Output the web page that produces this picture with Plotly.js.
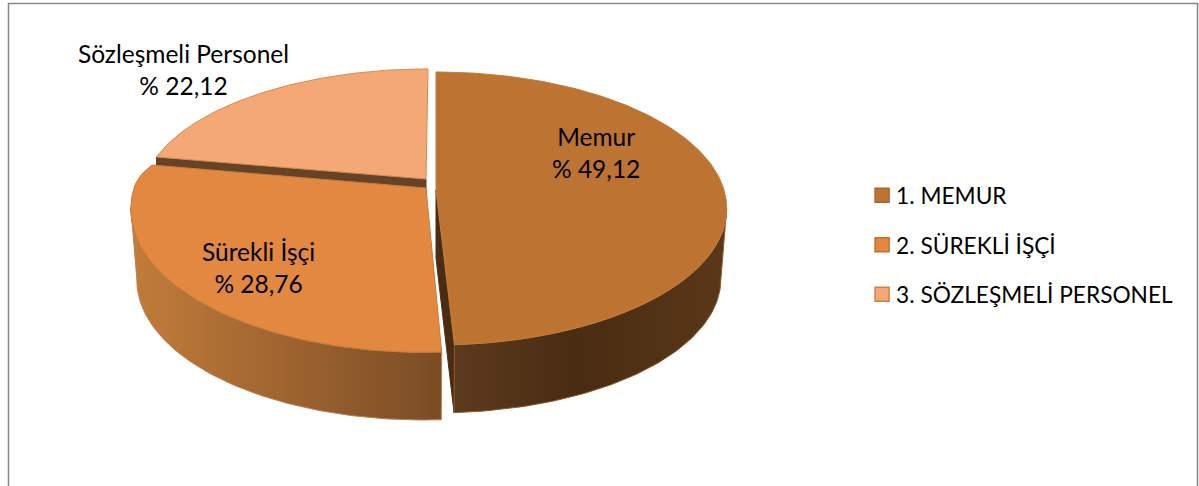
<!DOCTYPE html>
<html>
<head>
<meta charset="utf-8">
<script src="https://cdn.plot.ly/plotly-3.0.1.min.js"></script>
<style>html,body{margin:0;padding:0;background:#fff}#c{width:1199px;height:486px}</style>
</head>
<body>
<div id="c"></div>
<script>
// Data
const sliceNames = ["Memur", "Sürekli İşçi", "Sözleşmeli Personel"];
const legendNames = ["1. MEMUR", "2. SÜREKLİ İŞÇİ", "3. SÖZLEŞMELİ PERSONEL"];
const shares = [49.12, 28.76, 22.12];

// Perspective pie geometry (pixel-valued axes)
const K = 0.1355, WALL_DY = 71, WALL_S = 0.98;
const DEG = Math.PI / 180;
const geom = [
  {cx: 436, cy: 190, rx: 288, a: 134, lean: 0, bx: 0, by: 0},
  {cx: 426, cy: 188, rx: 292, a: 142, lean: -3, bx: 187, by: 62},
  {cx: 426, cy: 179, rx: 281, a: 125, lean: -2, bx: 0, by: 0}
];
const topCol = ["#bd7433", "#e28840", "#f4a875"];
const rimCol = ["#c47c3a", "#c97a36", "#d98a4a"];

const total = shares.reduce((a, b) => a + b, 0);
const startAngle = [];
shares.reduce((acc, v, i) => { startAngle[i] = acc; return acc + v / total * 360; }, 0);
const endAngle = startAngle.map((s, i) => s + shares[i] / total * 360);

function pt(g, deg, low) {
  const u = Math.sin(deg * DEG), v = -Math.cos(deg * DEG), d = 1 - K * v;
  const s = low ? WALL_S : 1;
  const back = v < 0 ? v * v : 0; // the far rim of a pulled slice curves in slightly
  return [g.cx + s * g.rx * u / d + g.lean * v + g.bx * back,
          g.cy + (low ? WALL_DY : 0) + s * g.a * v / d + g.by * back];
}
function arc(g, a0, a1, low) {
  const out = [], n = Math.max(2, Math.ceil(Math.abs(a1 - a0)));
  for (let i = 0; i <= n; i++) out.push(pt(g, a0 + (a1 - a0) * i / n, low));
  return out;
}
function poly(points, fill, line, extra) {
  return Object.assign({
    type: "scatter", mode: "lines", x: points.map(p => p[0]), y: points.map(p => p[1]),
    fill: "toself", fillcolor: fill, line: {color: line, width: 1},
    hoverinfo: "skip", showlegend: false
  }, extra || {});
}
function grad(stops) { return {fillgradient: {type: "horizontal", colorscale: stops}}; }
function topFace(i) {
  const g = geom[i];
  return poly([[g.cx, g.cy]].concat(arc(g, startAngle[i], endAngle[i], false)).concat([[g.cx, g.cy]]), topCol[i], rimCol[i]);
}
const SIL = Math.acos(-K) / DEG; // angle of the widest point of the rim

const traces = [];
// Sözleşmeli: cut face then top
{
  const g = geom[2], tip = pt(g, startAngle[2], false);
  traces.push(poly([tip, [g.cx, g.cy], [g.cx, g.cy + 68], [tip[0], tip[1] + 68], tip], "#644329", "#644329"));
  traces.push(topFace(2));
}
// Sürekli: wall then top
{
  const g = geom[1];
  const a1 = 360 - SIL;
  const wall = arc(g, startAngle[1], a1, false).concat(arc(g, a1, startAngle[1], true));
  wall.push(wall[0]);
  traces.push(poly(wall, "#a86a32", "#b98050", grad([[0, "#c27c3b"], [0.35, "#a96b33"], [1, "#7a4c25"]])));
  traces.push(topFace(1));
}
// Memur: cut face, wall, top
{
  const g = geom[0];
  const a0 = endAngle[0], rim = pt(g, a0, false), low = pt(g, a0, true);
  traces.push(poly([[g.cx, g.cy], rim, low, [g.cx, g.cy + 68], [g.cx, g.cy]], "#4a2c12", "#4a2c12"));
  const wall = arc(g, SIL, a0, false).concat(arc(g, a0, SIL, true));
  wall.push(wall[0]);
  traces.push(poly(wall, "#4e2f15", "#8f5a2a", grad([[0, "#5c3a1d"], [0.45, "#4a2c13"], [1, "#5a3818"]])));
  traces.push(topFace(0));
}
// Legend entries
legendNames.forEach((n, i) => traces.push({
  type: "scatter", mode: "markers", x: [null], y: [null], name: n, legendgroup: "g" + i,
  marker: {symbol: "square", size: 14, color: topCol[i], line: {color: ["#a9652b", "#c2702c", "#d0813f"][i], width: 1.5}},
  hoverinfo: "skip"
}));

const FONT = "Lato, Carlito, sans-serif";
const pct = v => "% " + v.toFixed(2).replace(".", ",");
const labelPos = [[596, 152], [258, 267], [183, 69]];
const annotations = sliceNames.map((n, i) => ({
  x: labelPos[i][0], y: labelPos[i][1], xref: "x", yref: "y", showarrow: false,
  text: n + "<br>" + pct(shares[i]), align: "center", font: {family: FONT, size: 24.5, color: "#000"}
}));

const layout = {
  width: 1199, height: 486, margin: {l: 0, r: 0, t: 0, b: 0},
  paper_bgcolor: "#fff", plot_bgcolor: "#fff",
  xaxis: {range: [0, 1199], visible: false, fixedrange: true},
  yaxis: {range: [486, 0], visible: false, fixedrange: true},
  shapes: [{type: "rect", xref: "x", yref: "y", x0: 8.5, y0: 3.5, x1: 1197.5, y1: 495,
            line: {color: "#868686", width: 1.5}, layer: "below"}],
  annotations,
  legend: {x: 0.719, y: 0.496, xanchor: "left", yanchor: "middle", tracegroupgap: 17,
           font: {family: FONT, size: 22.7, color: "#000"}, itemclick: false, itemdoubleclick: false, bgcolor: "rgba(0,0,0,0)"},
  showlegend: true
};
Plotly.newPlot("c", traces, layout, {displayModeBar: false, staticPlot: true}).then(() => {
  document.querySelectorAll(".legendtext").forEach(t => t.setAttribute("x", 34));
});
</script>
</body>
</html>
